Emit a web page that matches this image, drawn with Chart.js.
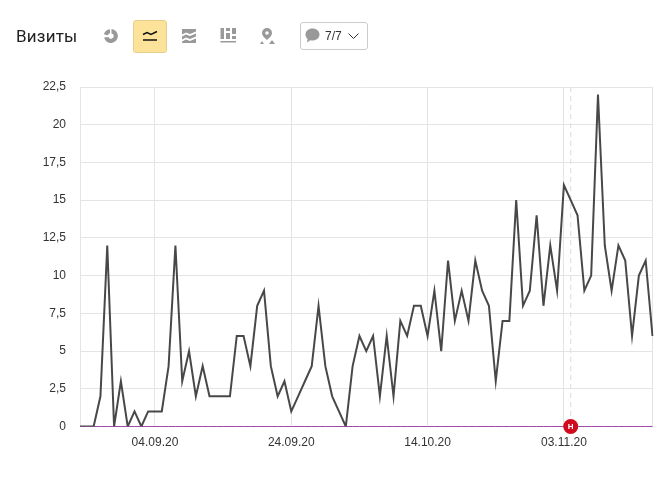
<!DOCTYPE html>
<html>
<head>
    <meta charset="utf-8" />
    <script src="https://cdn.jsdelivr.net/npm/chart.js"></script>
    <style>
        body { margin: 0; background: white; font-family: "Liberation Sans", sans-serif; }
        #wrap { position: relative; width: 665px; height: 489px; overflow: hidden; }
        canvas { position: absolute; left: 0; top: 0; }
        .title { position: absolute; left: 16px; top: 26px; font: 17px Roboto, sans-serif; letter-spacing: 0.2px; color: #222; }
        .icon { position: absolute; }
        .active { position: absolute; left: 133px; top: 20px; width: 32px; height: 31px; background: #fde39a; border: 1px solid #e6cf8e; border-radius: 3px; }
        .drop { position: absolute; left: 300px; top: 22px; width: 66px; height: 26px; border: 1px solid #ccc; border-radius: 3px; }
        .drop span { position: absolute; left: 24px; top: 6px; font-size: 12px; color: #333; }
    </style>
</head>
<body>
<div id="wrap">
    <canvas id="visitsChart" width="665" height="489"></canvas>
    <div class="title">Визиты</div>

    <svg class="icon" style="left:103px;top:28px" width="16" height="16" viewBox="0 0 16 16">
        <path d="M8.500 1a7 7 0 1 1-7.400 8.500l4.400-.6a2.700 2.700 0 1 0 3-3.500z" fill="#999"/>
        <path d="M7 1.200v3.700L4.300 7.300.9 6.200A7 7 0 0 1 7 1.200z" fill="#999"/>
    </svg>
    <div class="active"></div>
    <svg class="icon" style="left:142px;top:29px" width="16" height="14" viewBox="0 0 16 14">
        <path d="M1 5.500l4-2 4 2 6-3" fill="none" stroke="#111" stroke-width="1.500"/>
        <path d="M1 11h14" stroke="#111" stroke-width="1.500"/>
    </svg>
    <svg class="icon" style="left:181px;top:28px" width="16" height="16" viewBox="0 0 16 16">
        <path d="M1 1h14v2.500L9 6 5 4.500 1 6.500zM1 8.500l4-2 4 1.500 6-2.500v3L9 11 5 9.500l-4 2zM1 13.500l4-2 4 1.500 6-2.500V15H1z" fill="#999"/>
    </svg>
    <svg class="icon" style="left:220px;top:27px" width="16" height="17" viewBox="0 0 16 17">
        <path d="M0.500 1h3.500v11H0.500zM6 6h4v6H6zM6 1h4v3H6zM12 1h4v6h-4zM12 9h4v3h-4zM0.500 14h15.500v1.500H0.500z" fill="#999"/>
    </svg>
    <svg class="icon" style="left:259px;top:27px" width="16" height="18" viewBox="0 0 16 18">
        <path d="M8 1a5 5 0 0 1 5 5c0 3-3 5-5 7-2-2-5-4-5-7a5 5 0 0 1 5-5zm0 3.200a1.800 1.800 0 1 0 0 3.600 1.800 1.800 0 0 0 0-3.600z" fill="#999"/>
        <path d="M1 17l2-3 2 3zM10 17l3-4 3 4z" fill="#999"/>
    </svg>
    <div class="drop">
        <svg class="icon" style="left:3px;top:4px" width="17" height="17" viewBox="0 0 17 17">
            <path d="M8.500 1.500c3.900 0 7 2.600 7 6s-3.100 6-7 6c-.8 0-1.500-.1-2.200-.3L3 15.500l.6-3.600C2.300 10.800 1.500 9.200 1.500 7.500c0-3.400 3.100-6 7-6z" fill="#999"/>
        </svg>
        <span>7/7</span>
        <svg class="icon" style="left:47px;top:10px" width="11" height="7" viewBox="0 0 11 7">
            <path d="M0.500 0.500l5 5 5-5" fill="none" stroke="#333" stroke-width="1"/>
        </svg>
    </div>
</div>

<script>
    const dates = [
        '24.08.20', '25.08.20', '26.08.20', '27.08.20', '28.08.20', '29.08.20', '30.08.20', '31.08.20',
        '01.09.20', '02.09.20', '03.09.20', '04.09.20', '05.09.20', '06.09.20', '07.09.20', '08.09.20',
        '09.09.20', '10.09.20', '11.09.20', '12.09.20', '13.09.20', '14.09.20', '15.09.20', '16.09.20',
        '17.09.20', '18.09.20', '19.09.20', '20.09.20', '21.09.20', '22.09.20', '23.09.20', '24.09.20',
        '25.09.20', '26.09.20', '27.09.20', '28.09.20', '29.09.20', '30.09.20', '01.10.20', '02.10.20',
        '03.10.20', '04.10.20', '05.10.20', '06.10.20', '07.10.20', '08.10.20', '09.10.20', '10.10.20',
        '11.10.20', '12.10.20', '13.10.20', '14.10.20', '15.10.20', '16.10.20', '17.10.20', '18.10.20',
        '19.10.20', '20.10.20', '21.10.20', '22.10.20', '23.10.20', '24.10.20', '25.10.20', '26.10.20',
        '27.10.20', '28.10.20', '29.10.20', '30.10.20', '31.10.20', '01.11.20', '02.11.20', '03.11.20',
        '04.11.20', '05.11.20', '06.11.20', '07.11.20', '08.11.20', '09.11.20', '10.11.20', '11.11.20',
        '12.11.20', '13.11.20', '14.11.20', '15.11.20', '16.11.20'
    ];
    const visits = [
        0, 0, 0, 2, 12, 0, 3, 0, 1, 0, 1, 1, 1, 4, 12, 3, 5, 2, 4, 2, 2,
        2, 2, 6, 6, 4, 8, 9, 4, 2, 3, 1, 2, 3, 4, 8, 4, 2, 1, 0, 4, 6,
        5, 6, 2, 6, 2, 7, 6, 8, 8, 6, 9, 5, 11, 7, 9, 7, 11, 9, 8, 3, 7,
        7, 15, 8, 9, 14, 8, 12, 9, 16, 15, 14, 9, 10, 22, 12, 9, 12, 11, 6, 10, 11, 6
    ];
    // вторая линия, лежит на нуле
    const baseline = [
        0, 0, 0, 0, 0, 0, 0, 0, 0, 0, 0, 0, 0, 0, 0, 0, 0, 0, 0, 0, 0,
        0, 0, 0, 0, 0, 0, 0, 0, 0, 0, 0, 0, 0, 0, 0, 0, 0, 0, 0, 0, 0,
        0, 0, 0, 0, 0, 0, 0, 0, 0, 0, 0, 0, 0, 0, 0, 0, 0, 0, 0, 0, 0,
        0, 0, 0, 0, 0, 0, 0, 0, 0, 0, 0, 0, 0, 0, 0, 0, 0, 0, 0, 0, 0, 0
    ];
    const tickDates = ['04.09.20', '24.09.20', '14.10.20', '03.11.20'];
    const lastDate = '16.11.20'; // только линия сетки справа, без подписи
    const noteDate = '04.11.20';
    const noteLabel = 'Н';

    // пунктир и буква для метки на оси
    const notePlugin = {
        id: 'note',
        beforeDatasetsDraw(chart) {
            const pt = chart.getDatasetMeta(2).data[0];
            const ctx = chart.ctx;
            ctx.save();
            ctx.strokeStyle = '#dcdcdc';
            ctx.setLineDash([5, 4]);
            ctx.beginPath();
            ctx.moveTo(pt.x, chart.chartArea.top);
            ctx.lineTo(pt.x, chart.chartArea.bottom);
            ctx.stroke();
            ctx.restore();
        },
        afterDatasetsDraw(chart) {
            const pt = chart.getDatasetMeta(2).data[0];
            const ctx = chart.ctx;
            ctx.save();
            ctx.fillStyle = 'white';
            ctx.font = 'bold 8px "Liberation Sans"';
            ctx.textAlign = 'center';
            ctx.textBaseline = 'middle';
            ctx.fillText(noteLabel, pt.x, pt.y + 0.5);
            ctx.restore();
        }
    };

    new Chart(document.getElementById('visitsChart'), {
        type: 'line',
        plugins: [notePlugin],
        data: {
            labels: dates,
            datasets: [
                {
                    data: visits,
                    borderColor: '#484848',
                    borderWidth: 2,
                    pointRadius: 0,
                    tension: 0,
                    order: 2
                },
                {
                    data: baseline,
                    borderColor: '#a04aa8',
                    borderWidth: 1,
                    pointRadius: 0,
                    tension: 0,
                    clip: false,
                    order: 3
                },
                {
                    data: [{ x: noteDate, y: 0 }],
                    pointRadius: 7.5,
                    pointBackgroundColor: '#d00a1e',
                    pointBorderWidth: 0,
                    showLine: false,
                    clip: false,
                    order: 1
                }
            ]
        },
        options: {
            responsive: false,
            animation: false,
            layout: { padding: { top: 87, right: 12.5 } },
            plugins: {
                legend: { display: false },
                tooltip: { enabled: false }
            },
            scales: {
                x: {
                    afterBuildTicks(scale) {
                        scale.ticks = scale.ticks.filter(t => tickDates.includes(dates[t.value]) || dates[t.value] === lastDate);
                    },
                    afterFit(scale) { scale.height = 62.5; },
                    grid: { color: '#e4e4e4', drawTicks: false },
                    border: { color: '#e4e4e4' },
                    ticks: {
                        autoSkip: false,
                        maxRotation: 0,
                        padding: 9,
                        color: '#333',
                        font: { family: 'Liberation Sans', size: 12 },
                        callback(value) { return tickDates.includes(dates[value]) ? dates[value] : ''; }
                    }
                },
                y: {
                    min: 0,
                    max: 22.5,
                    afterFit(scale) { scale.width = 80; },
                    grid: { color: '#e4e4e4', drawTicks: false },
                    border: { color: '#e4e4e4' },
                    ticks: {
                        stepSize: 2.5,
                        padding: 14,
                        color: '#333',
                        font: { family: 'Liberation Sans', size: 12 },
                        callback(value) { return String(value).replace('.', ','); }
                    }
                }
            }
        },
    });
</script>
</body>
</html>
